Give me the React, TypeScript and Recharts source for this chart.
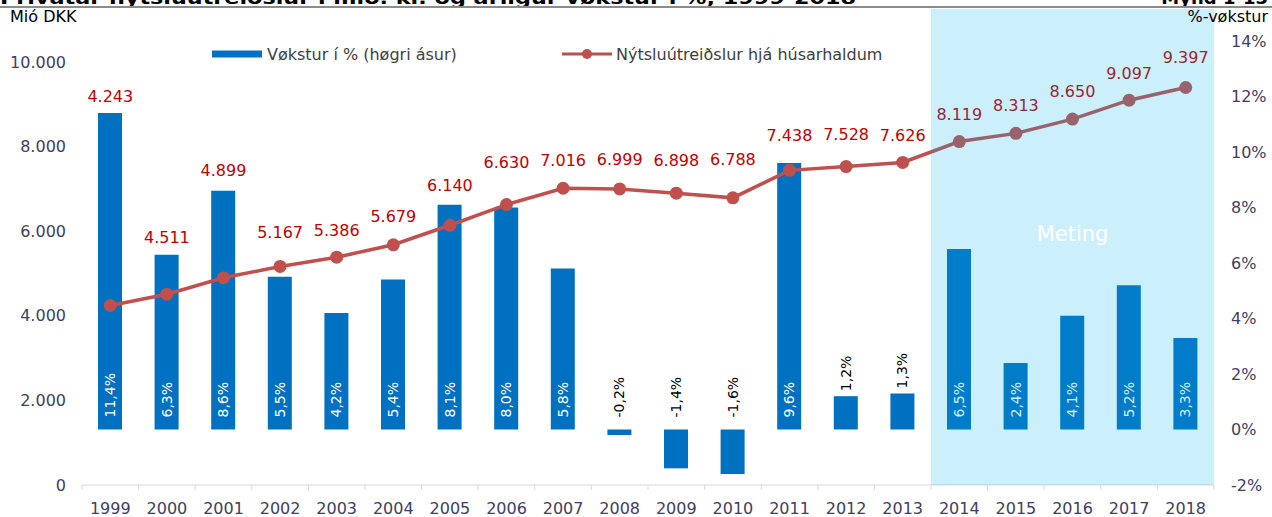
import React from 'react';
import { ComposedChart, Bar, Line, XAxis, YAxis, ReferenceArea, LabelList, Legend } from 'recharts';

const years = ['1999', '2000', '2001', '2002', '2003', '2004', '2005', '2006', '2007', '2008', '2009', '2010', '2011', '2012', '2013', '2014', '2015', '2016', '2017', '2018'];
const growthPct = [11.4, 6.3, 8.6, 5.5, 4.2, 5.4, 8.1, 8.0, 5.8, -0.2, -1.4, -1.6, 9.6, 1.2, 1.3, 6.5, 2.4, 4.1, 5.2, 3.3];
const consumptionMDKK = [4243, 4511, 4899, 5167, 5386, 5679, 6140, 6630, 7016, 6999, 6898, 6788, 7438, 7528, 7626, 8119, 8313, 8650, 9097, 9397];
const leftTicks = [0, 2000, 4000, 6000, 8000, 10000];
const rightTicks = [-2, 0, 2, 4, 6, 8, 10, 12, 14];
const forecastStart = '2014';
const forecastEnd = '2018';

// label placement of the value labels (px above the marker), placed by hand in the source
const consLabelLift = [209, 57, 107, 34, 27, 28, 40, 42, 28, 29, 33, 38, 35, 32, 27, 27, 28, 28, 27, 30];

const data = years.map((year, i) => ({ year, growth: growthPct[i], cons: consumptionMDKK[i] }));

const FONT = '"DejaVu Sans", Verdana, sans-serif';
const fmtThousands = (v: number) => String(v).replace(/\B(?=(\d{3})+(?!\d))/g, '.');
const fmtPct = (v: number) => v.toFixed(1).replace('.', ',') + '%';

const BarLabel = (props: any) => {
  const { x, y, width, height, value } = props;
  const v = Number(value);
  const cx = Number(x) + Number(width) / 2;
  const y0 = Number(y);
  const y1 = Number(y) + Number(height);
  const zero = v >= 0 ? Math.max(y0, y1) : Math.min(y0, y1);
  const top = Math.min(y0, y1);
  let start: number;
  let fill: string;
  if (v >= 2) {
    start = zero - 12;
    fill = '#FFFFFF';
  } else if (v > 0) {
    start = top - 5;
    fill = '#000000';
  } else {
    start = zero - 12;
    fill = '#000000';
  }
  return (
    <text
      x={cx}
      y={start}
      transform={`rotate(-90 ${cx} ${start})`}
      textAnchor="start"
      dominantBaseline="central"
      fontSize={14}
      fontFamily={FONT}
      fill={fill}
    >
      {fmtPct(v)}
    </text>
  );
};

const LineLabel = (props: any) => {
  const { value, index } = props;
  const x = props.x ?? props.viewBox?.x;
  const y = props.y ?? props.viewBox?.y;
  const cy = Number(y) - consLabelLift[index];
  return (
    <text x={x} y={cy} textAnchor="middle" dominantBaseline="central" fontSize={16} fontFamily={FONT} fill="#C00000">
      {fmtThousands(Number(value))}
    </text>
  );
};

const XTick = (props: any) => {
  const { x, y, payload, index } = props;
  const half = payload && typeof payload.offset === 'number' && payload.offset > 0 ? payload.offset : 28.3;
  const isLast = index === years.length - 1;
  return (
    <g>
      <line x1={x - half} x2={x - half} y1={y} y2={y + 5} stroke="#D9D9D9" strokeWidth={1} />
      {isLast && <line x1={x + half} x2={x + half} y1={y} y2={y + 5} stroke="#D9D9D9" strokeWidth={1} />}
      <text x={x} y={y + 29} textAnchor="middle" fontSize={16} fontFamily={FONT} fill="#404060">
        {payload.value}
      </text>
    </g>
  );
};

const ForecastShade = (props: any) => {
  const { x, y, width, height } = props;
  return (
    <g>
      <rect x={x} y={y} width={width} height={height} fill="#00B0F0" fillOpacity={0.2} />
      <text
        x={x + width / 2}
        y={y + height / 2 - 13}
        textAnchor="middle"
        dominantBaseline="central"
        fontSize={21}
        fontFamily={FONT}
        fill="#FFFFFF"
      >
        Meting
      </text>
    </g>
  );
};

const LegendContent = () => (
  <svg width={1272} height={24} style={{ display: 'block' }}>
    <rect x={212} y={8.5} width={50} height={7} fill="#0070C0" />
    <text x={267} y={12} dominantBaseline="central" fontSize={16} fontFamily={FONT} fill="#404040">
      Vøkstur í % (høgri ásur)
    </text>
    <line x1={562} x2={612} y1={12} y2={12} stroke="#C0504D" strokeWidth={3} />
    <circle cx={587} cy={12} r={5} fill="#C0504D" />
    <text x={616} y={12} dominantBaseline="central" fontSize={16} fontFamily={FONT} fill="#404040">
      Nýtsluútreiðslur hjá húsarhaldum
    </text>
  </svg>
);

export default function App() {
  return (
    <div style={{ position: 'absolute', left: 0, top: 0, width: 1272, height: 517, background: '#FFFFFF', fontFamily: FONT }}>
      <ComposedChart width={1272} height={517} data={data} margin={{ top: 9, right: 0, bottom: 0, left: 0 }} barCategoryGap="0%">
        <XAxis
          dataKey="year"
          height={32}
          axisLine={{ stroke: '#D9D9D9', strokeWidth: 1 }}
          tickLine={false}
          tickSize={0}
          tickMargin={0}
          interval={0}
          tick={<XTick />}
        />
        <YAxis
          yAxisId="left"
          orientation="left"
          width={82}
          domain={[0, 11253]}
          ticks={leftTicks}
          allowDataOverflow
          axisLine={false}
          tickLine={false}
          tickSize={0}
          tickMargin={16}
          tickFormatter={(v: number) => fmtThousands(v)}
          tick={{ fontSize: 16, fontFamily: FONT, fill: '#404060' }}
        />
        <YAxis
          yAxisId="right"
          orientation="right"
          width={58}
          domain={[-2, 15.15]}
          ticks={rightTicks}
          allowDataOverflow
          axisLine={false}
          tickLine={false}
          tickSize={0}
          tickMargin={17}
          tickFormatter={(v: number) => `${v}%`}
          tick={{ fontSize: 16, fontFamily: FONT, fill: '#404060', textAnchor: 'start' }}
        />
        <Legend verticalAlign="middle" align="center" layout="horizontal" content={<LegendContent />} wrapperStyle={{ top: 42, left: 0, width: 1272, height: 24 }} />
        <Bar yAxisId="right" dataKey="growth" fill="#0070C0" barSize={24} isAnimationActive={false}>
          <LabelList dataKey="growth" content={<BarLabel />} />
        </Bar>
        <Line
          yAxisId="left"
          dataKey="cons"
          stroke="#C0504D"
          strokeWidth={3.5}
          dot={{ r: 6.5, fill: '#C0504D', stroke: 'none' }}
          activeDot={false}
          isAnimationActive={false}
        >
          <LabelList dataKey="cons" content={<LineLabel />} />
        </Line>
        <ReferenceArea yAxisId="left" x1={forecastStart} x2={forecastEnd} shape={<ForecastShade />} ifOverflow="visible" zIndex={3000} />
      </ComposedChart>
      <svg width={1272} height={517} style={{ position: 'absolute', left: 0, top: 0, pointerEvents: 'none' }}>
        <text x={0} y={4} fontSize={18} fontWeight="bold" fontFamily={FONT} fill="#000000" textLength={856} lengthAdjust="spacingAndGlyphs">
          Privatar nýtsluútreiðslur í mió. kr. og árligur vøkstur í %, 1999-2018
        </text>
        <text x={1268} y={4} fontSize={18} fontWeight="bold" fontFamily={FONT} fill="#000000" textAnchor="end">
          Mynd 1-13
        </text>
        <rect x={0} y={6} width={1272} height={2} fill="#8C8C8C" />
        <text x={10} y={22} fontSize={16} fontFamily={FONT} fill="#000000">
          Mió DKK
        </text>
        <text x={1268} y={22} fontSize={16} fontFamily={FONT} fill="#000000" textAnchor="end">
          %-vøkstur
        </text>
      </svg>
    </div>
  );
}
